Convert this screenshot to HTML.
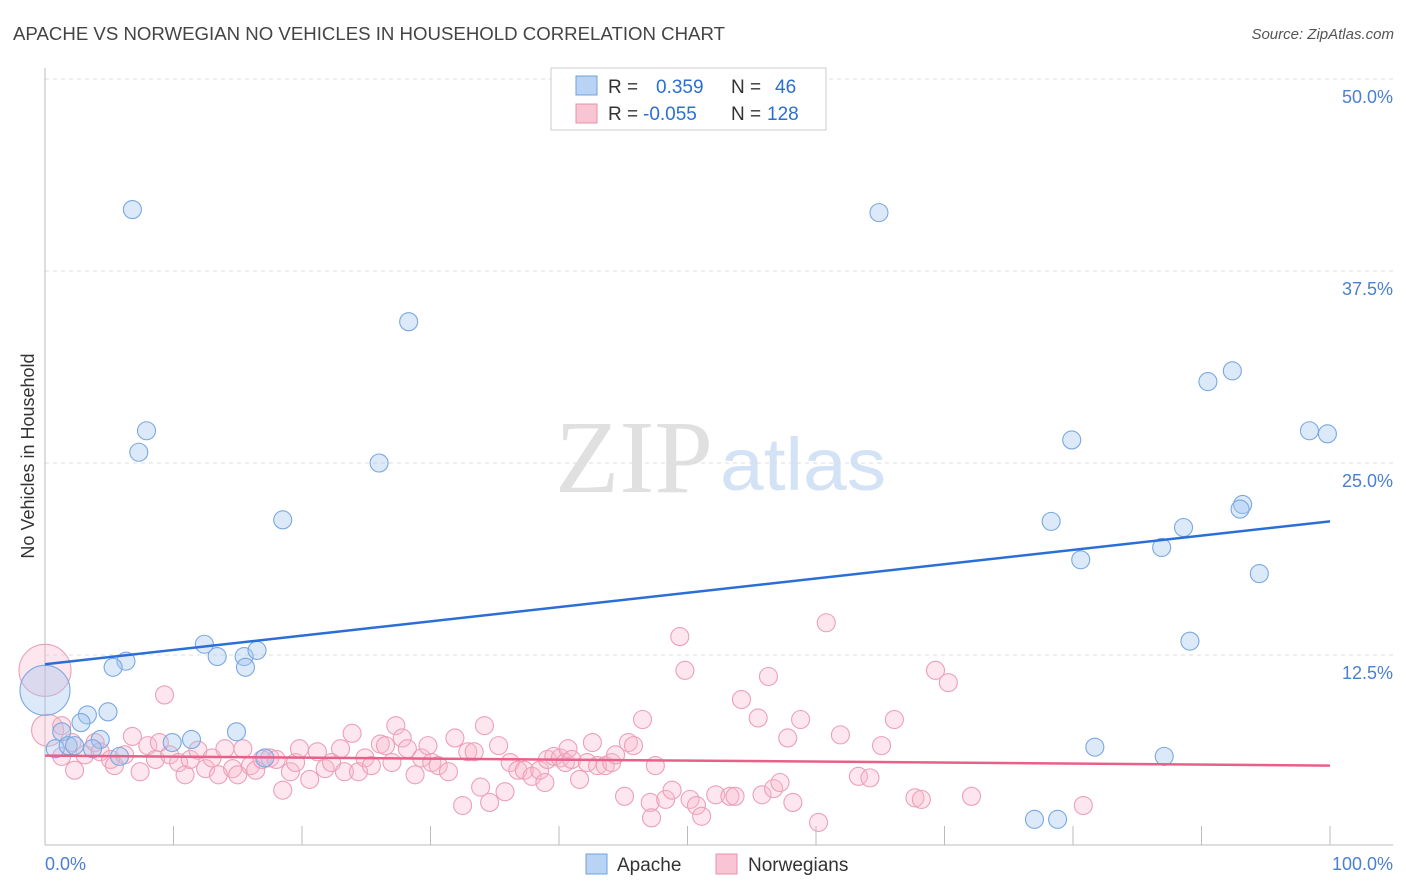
<!DOCTYPE html>
<html><head><meta charset="utf-8">
<style>
body{margin:0;background:#fff;font-family:"Liberation Sans",sans-serif;}
#wrap{position:relative;width:1406px;height:892px;overflow:hidden;}
</style></head>
<body>
<div id="wrap">
<svg id="svg" width="1406" height="892" xmlns="http://www.w3.org/2000/svg">
<text x="13" y="40" font-size="18" fill="#444" textLength="712" lengthAdjust="spacingAndGlyphs">APACHE VS NORWEGIAN NO VEHICLES IN HOUSEHOLD CORRELATION CHART</text>
<text x="1394" y="39" font-size="15" fill="#555" font-style="italic" text-anchor="end">Source: ZipAtlas.com</text>
<text x="634" y="492" font-size="104" font-family="Liberation Serif,serif" fill="#e0e0e0" text-anchor="middle" textLength="158" lengthAdjust="spacingAndGlyphs">ZIP</text>
<text x="803" y="490" font-size="74" fill="#d3e3f5" text-anchor="middle" textLength="166" lengthAdjust="spacingAndGlyphs">atlas</text>
<text transform="translate(34,456) rotate(-90)" font-size="18" fill="#333" text-anchor="middle">No Vehicles in Household</text>
<g id="grid"></g>
<g id="axes"></g>
<g id="pts"></g>
<g id="lines"></g>
<g>
<rect x="551" y="68" width="275" height="62" fill="#fff" stroke="#ccc"/>
<rect x="576" y="76" width="21" height="19" fill="#b8d3f4" stroke="#6fa0e0"/>
<rect x="576" y="104" width="21" height="19" fill="#f9c4d3" stroke="#e890a8"/>
<text x="608" y="93" font-size="19" fill="#333">R = <tspan x="656" fill="#2a6fd6">0.359</tspan><tspan x="731" fill="#333">N =</tspan><tspan x="775" fill="#2a6fd6">46</tspan></text>
<text x="608" y="120" font-size="19" fill="#333">R = <tspan x="643" fill="#2a6fd6">-0.055</tspan><tspan x="731" fill="#333">N =</tspan><tspan x="767" fill="#2a6fd6">128</tspan></text>
</g>
<g>
<rect x="586" y="854" width="21" height="20" fill="#b8d3f4" stroke="#6fa0e0"/>
<text x="617" y="871" font-size="19" fill="#333">Apache</text>
<rect x="716" y="854" width="21" height="20" fill="#f9c4d3" stroke="#e890a8"/>
<text x="748" y="871" font-size="19" fill="#333">Norwegians</text>
</g>
</svg>
</div>
<script>
const yTicks=[12.5,25,37.5,50];
const yTickLabels=["12.5%","25.0%","37.5%","50.0%"];
const xTickLabels=["0.0%","100.0%"];
const apacheX=[6.8,64.9,28.3,7.9,7.3,26.0,18.5,90.5,92.4,79.9,98.4,99.8,78.3,80.6,86.9,88.6,93.2,93.0,94.5,89.1,12.4,6.3,5.3,13.4,15.5,16.5,15.6,0,3.3,4.9,2.8,14.9,1.3,11.4,9.9,4.3,0.8,1.8,2.3,3.7,5.8,17.1,81.7,87.1,77.0,78.8];
const apacheY=[41.5,41.3,34.2,27.1,25.7,25.0,21.3,30.3,31.0,26.5,27.1,26.9,21.2,18.7,19.5,20.8,22.3,22.0,17.8,13.4,13.2,12.1,11.7,12.4,12.4,12.8,11.7,10.2,8.6,8.8,8.1,7.5,7.5,7.0,6.8,7.0,6.4,6.6,6.6,6.4,5.9,5.8,6.5,5.9,1.8,1.8];
const norX=[0,0.2,9.3,1.3,2.1,1.3,2.3,3.1,3.9,4.3,5.1,5.4,6.2,6.8,7.4,8.0,8.6,8.9,9.7,10.4,10.9,11.3,11.9,12.5,13.0,13.5,14.0,14.6,15.0,15.4,16.0,16.4,16.9,17.5,18.0,18.5,19.1,19.5,19.8,20.6,21.2,21.8,22.3,23.0,23.3,23.9,24.4,24.9,25.4,26.1,26.5,27.0,27.3,27.8,28.2,28.8,29.3,29.8,30.1,30.6,31.4,31.9,32.5,32.9,33.4,34.2,33.9,34.6,35.3,35.8,36.2,36.8,37.3,37.9,38.5,38.9,39.1,39.6,40.1,40.5,40.7,41.0,41.6,42.2,42.6,43.0,43.6,44.1,44.4,45.1,45.4,45.8,46.5,47.1,47.2,47.5,48.3,48.8,49.4,49.8,50.2,50.7,51.1,52.2,53.3,53.7,54.2,55.5,55.8,56.3,56.7,57.2,57.8,58.2,58.8,60.2,60.8,61.9,63.3,64.2,65.1,66.1,67.7,68.2,69.3,70.3,72.1,80.8];
const norY=[11.5,7.6,9.9,7.9,6.8,5.9,5.0,6.0,6.8,6.2,5.7,5.3,6.0,7.2,4.9,6.6,5.7,6.8,6.0,5.5,4.7,5.7,6.3,5.1,5.8,4.7,6.4,5.1,4.7,6.4,5.3,5.0,5.7,5.8,5.7,3.7,4.9,5.5,6.4,4.4,6.2,5.1,5.5,6.4,4.9,7.4,4.9,5.8,5.3,6.7,6.6,5.5,7.9,7.1,6.4,4.7,5.8,6.6,5.5,5.3,4.9,7.1,2.7,6.2,6.2,7.9,3.9,2.9,6.6,3.6,5.5,5.0,5.0,4.6,5.0,4.2,5.7,5.9,5.8,5.5,6.4,5.7,4.4,5.5,6.8,5.3,5.3,5.5,6.0,3.3,6.8,6.6,8.3,2.9,1.9,5.3,3.1,3.7,13.7,11.5,3.1,2.7,2.0,3.4,3.3,3.3,9.6,8.4,3.4,11.1,3.8,4.2,7.1,2.9,8.3,1.6,14.6,7.3,4.6,4.5,6.6,8.3,3.2,3.1,11.5,10.7,3.3,2.7];
const apacheBig=[27];
const norBig=[0,1];
const apacheTrend=[11.9,21.2];
const norTrend=[5.95,5.3];

const X0=45,X1=1330,Y0=847,PXPER=192/12.5;
const sx=v=>X0+(X1-X0)*v/100;
const sy=v=>Y0-v*PXPER;
const NS="http://www.w3.org/2000/svg";
function mk(tag,attrs,parent){const e=document.createElementNS(NS,tag);for(const k in attrs)e.setAttribute(k,attrs[k]);parent.appendChild(e);return e;}
const grid=document.getElementById('grid'),axes=document.getElementById('axes'),pts=document.getElementById('pts'),lines=document.getElementById('lines');
yTicks.forEach((t,i)=>{
 const l=mk('line',{x1:X0,x2:1393,y1:sy(t),y2:sy(t),stroke:'#ddd','stroke-dasharray':'4,4'},grid);
 
 
 const tx=mk('text',{x:1393,y:sy(t)+24,'font-size':18,fill:'#4a80d0','text-anchor':'end'},axes);
 tx.textContent=yTickLabels[i];
 
 
});
const ax=mk('line',{x1:X0,x2:1393,y1:845,y2:845,stroke:'#bbb'},axes);


const ay=mk('line',{x1:X0,x2:X0,y1:68,y2:845,stroke:'#bbb'},axes);


for(let i=1;i<=10;i++){
 const t=mk('line',{x1:sx(i*10),x2:sx(i*10),y1:826,y2:845,stroke:'#bbb'},axes);
 
 
}
const xl0=mk('text',{x:45,y:870,'font-size':18,fill:'#4a80d0'},axes);xl0.textContent=xTickLabels[0];


const xl1=mk('text',{x:1393,y:870,'font-size':18,fill:'#4a80d0','text-anchor':'end'},axes);xl1.textContent=xTickLabels[1];


norX.forEach((v,i)=>{
 const c=mk('circle',{cx:sx(v),cy:sy(norY[i]),r:norBig.includes(i)?(i==0?26:16):9,fill:'rgba(248,182,202,0.35)',stroke:'#eca0b8','stroke-width':1.1},pts);
 
 
});
apacheX.forEach((v,i)=>{
 const c=mk('circle',{cx:sx(v),cy:sy(apacheY[i]),r:apacheBig.includes(i)?25:9,fill:'rgba(160,196,240,0.38)',stroke:'#7aa8e2','stroke-width':1.1},pts);
 
 
});
const la=mk('line',{x1:sx(0),x2:sx(100),y1:sy(apacheTrend[0]),y2:sy(apacheTrend[1]),stroke:'#2a6fd6','stroke-width':2.5},lines);


const ln=mk('line',{x1:sx(0),x2:sx(100),y1:sy(norTrend[0]),y2:sy(norTrend[1]),stroke:'#e8608a','stroke-width':2.5},lines);


</script>
</body></html>
